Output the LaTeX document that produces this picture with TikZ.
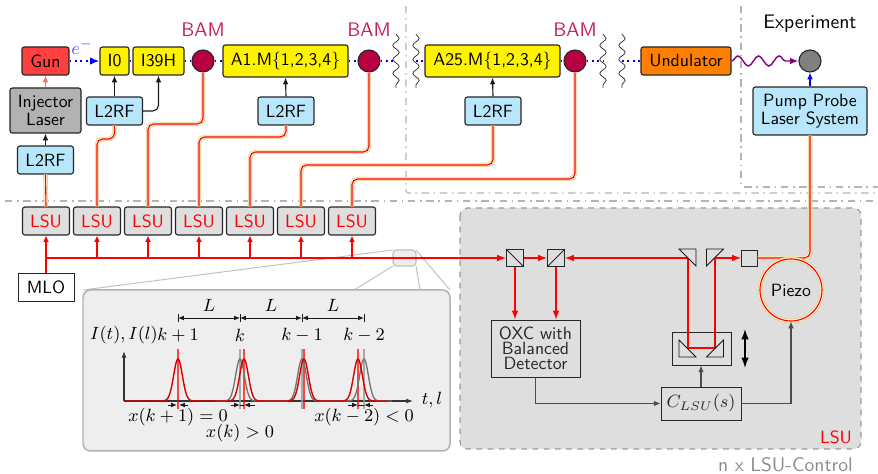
\documentclass[tikz,border=0pt]{standalone}
\usepackage{fix-cm}
\usepackage{amsmath}
\usetikzlibrary{arrows.meta,decorations.pathmorphing}

\newcommand{\pxu}{0.535pt}
\newcommand{\pulse}[1]{exp(-((\x-#1)/6.2)^2)}

\definecolor{gunred}{HTML}{FF4040}
\definecolor{rfblue}{HTML}{B8E6FA}
\definecolor{lsugray}{HTML}{DEDEDE}
\definecolor{insetgray}{HTML}{EEEEEE}
\definecolor{bamred}{HTML}{B80042}
\definecolor{bamtext}{HTML}{C8205A}
\definecolor{undorange}{HTML}{FF8000}
\definecolor{fibertan}{HTML}{E0D090}
\definecolor{fiberpale}{HTML}{FBF3D5}
\definecolor{linegray}{HTML}{B4B4B4}
\definecolor{wavepurple}{HTML}{800080}

\tikzset{
  largertext/.style={font=\sffamily\fontsize{10.5}{12.6}\selectfont},
  boxsize/.style 2 args={minimum width=#1*\pxu,minimum height=#2*\pxu,inner sep=0pt},
  blockbox/.style={draw=black!85,line width=.6pt,rounded corners=1.3pt,align=center},
  rfbox/.style={blockbox,fill=rfblue,boxsize={56}{28}},
  cavbox/.style={blockbox,fill=yellow},
  lsubox/.style={blockbox,fill=lsugray,text=red,boxsize={47}{28}},
  bamnode/.style={circle,draw=black!85,line width=.6pt,fill=bamred,minimum size=22*\pxu,inner sep=0pt},
  bamlabel/.style={largertext,text=bamtext},
  ctrlbox/.style={draw=black!85,line width=.5pt,align=center,text=black!85},
  splitbox/.style={draw=black!85,line width=.5pt,minimum size=17*\pxu,inner sep=0pt},
  prism/.style={draw=black!90,line width=.5pt},
  fiber/.style={draw=red,line width=.6pt,rounded corners=3pt,
    preaction={draw=fibertan,line width=2.4pt},
    preaction={draw=fiberpale,line width=1.6pt}},
  rfarrow/.style={draw=black!90,line width=.6pt,-{Latex[length=3.6pt,width=3pt]}},
  ctrlarrow/.style={draw=black!70,line width=.55pt,-{Latex[length=3.6pt,width=3pt]}},
  lightarrow/.style={draw=red,line width=.6pt,-{Latex[length=3.4pt,width=3.2pt]}},
  beamarrow/.style={draw=red,line width=.6pt,-{Latex[length=4.8pt,width=3.6pt]}},
  beam/.style={draw=blue,line width=.9pt,dotted},
  breakline/.style={draw=black!80,line width=.4pt,decorate,
    decoration={snake,amplitude=1.7pt,segment length=7.5pt}},
  arealine/.style={draw=linegray,line width=.55pt,dash pattern=on 4pt off 2.5pt on .8pt off 2.5pt},
  zoomline/.style={draw=black!25,line width=.5pt},
  dimarrow/.style={draw=black!90,line width=.5pt,{Latex[length=3.2pt,width=2.6pt]}-{Latex[length=3.2pt,width=2.6pt]}},
  offsetarrow/.style={draw=black!90,line width=.5pt,-{Latex[length=3.2pt,width=2.6pt]}},
}

\begin{document}
\begin{tikzpicture}[x=\pxu,y=-\pxu,font=\sffamily\fontsize{9.5}{11.4}\selectfont]
    \useasboundingbox (0,0) rectangle (878,474);

    % separators
    \draw[arealine] (5,201) -- (878,201);
    \draw[arealine,rounded corners=1pt] (406,6) -- (406,193) -- (878,193);
    \draw[arealine,rounded corners=1pt] (741,6) -- (741,187) -- (878,187);

    % accelerator
    \node[blockbox,fill=gunred,boxsize={47}{28}] (gun) at (45.5,61) {Gun};
    \node[blockbox,fill=black!30,boxsize={71}{45}] (injector) at (45.5,110.5) {Injector\\[-2.1pt]Laser};
    \node[rfbox] (rfinj) at (45.5,160) {L2RF};
    \node[cavbox,boxsize={29}{28}] (izero) at (114.5,61) {I0};
    \node[cavbox,boxsize={51}{28}] (ithree) at (158.5,61) {I39H};
    \node[cavbox,boxsize={125}{32}] (afirst) at (285.5,61) {A1.M\{1,2,3,4\}};
    \node[cavbox,boxsize={135}{32}] (alast) at (492.5,61) {A25.M\{1,2,3,4\}};
    \node[blockbox,fill=undorange,boxsize={90}{28}] (undulator) at (686,61) {Undulator};
    \node[bamnode] (bamA) at (203,61) {};
    \node[bamnode] (bamB) at (369,61) {};
    \node[bamnode] (bamC) at (575,61) {};
    \node[circle,draw=black!85,line width=.6pt,fill=black!50,minimum size=22*\pxu,inner sep=0pt] (target) at (810,61) {};
    \node[bamlabel] (labelA) at (203,30) {BAM};
    \node[bamlabel] (labelB) at (369,30) {BAM};
    \node[bamlabel] (labelC) at (575,30) {BAM};
    \node[largertext] (expt) at (810,24) {Experiment};
    \node[text=blue!70] (elec) at (82,47) {$e^-$};
    \node[rfbox] (rfa) at (114.5,111) {L2RF};
    \node[rfbox] (rfb) at (286,111) {L2RF};
    \node[rfbox] (rfc) at (493,111) {L2RF};
    \node[blockbox,fill=rfblue,boxsize={114}{48}] (pump) at (810,111) {Pump Probe\\[-2.1pt]Laser System};

    \coordinate (waveA) at (396,61);
    \coordinate (waveB) at (416,61);
    \coordinate (waveC) at (603,61);
    \coordinate (waveD) at (622,61);
    \foreach \w in {waveA,waveB,waveC,waveD}
        \draw[breakline] (\w) ++(0,-27) -- ++(0,54);

    \draw[beam,-{Latex[length=5pt,width=4pt]}] (gun.east) -- (izero.west);
    \draw[beam] (izero.east) -- (ithree.west);
    \draw[beam] (ithree.east) -- (bamA.west);
    \draw[beam] (bamA.east) -- (afirst.west);
    \draw[beam] (afirst.east) -- (bamB.west);
    \draw[beam] (bamB.east) -- (waveA);
    \draw[beam] (waveB) -- (alast.west);
    \draw[beam] (alast.east) -- (bamC.west);
    \draw[beam] (bamC.east) -- (waveC);
    \draw[beam] (waveD) -- (undulator.west);

    \draw[wavepurple,line width=.75pt,-{Latex[length=4.5pt,width=3.5pt]},decorate,
        decoration={snake,amplitude=2.7pt,segment length=11pt,post length=6pt}] (undulator.east) -- (target.west);
    \draw[blue,line width=.6pt,-{Latex[length=3.6pt,width=3pt]}] (pump.north -| target) -- (target.south);

    \draw[rfarrow] (rfinj.north) -- (injector.south);
    \draw[draw=red!60,line width=.6pt,-{Latex[length=3.6pt,width=3pt]}] (injector.north) -- (gun.south);
    \draw[rfarrow] (rfa.north) -- (izero.south);
    \draw[rfarrow,rounded corners=3pt] (rfa.east) -| (ithree.south);
    \draw[rfarrow] (rfb.north) -- (afirst.south);
    \draw[rfarrow] (rfc.north) -- (alast.south);

    % LSU control box and zoomed pulses
    \draw[draw=black!40,dashed,line width=.6pt,fill=lsugray,rounded corners=4pt] (460,208) rectangle (861,449);
    \node[text=red] (lsutag) at (836,437) {LSU};
    \node[largertext,text=black!45] (ncontrol) at (785.5,465) {n x LSU-Control};

    \draw[zoomline] (393,250) -- (83,290);
    \draw[zoomline] (416,250) -- (450,290);
    \draw[zoomline] (393,266) -- (354,290);
    \draw[zoomline] (416,266) -- (420,290);
    \draw[draw=black!25,line width=.6pt,fill=insetgray,rounded corners=2pt] (393,250) rectangle (416,266);
    \draw[draw=black!30,line width=.8pt,fill=insetgray,rounded corners=4pt] (83,290) rectangle (450,451);

    % pulses
    \draw[black!60,line width=.9pt] (124,401) -- (392,401);
    \draw[draw=black!80,line width=.55pt,-{Latex[length=3.6pt,width=2.6pt]}] (124,401) -- (124,351);
    \draw[draw=black!80,line width=.55pt,-{Latex[length=3.6pt,width=2.6pt]}] (124,401) -- (413,401);
    \foreach \xg in {240,302,364}
        \draw[black!40,line width=.8pt,opacity=.8] (\xg,349) -- (\xg,409);
    \foreach \xr in {178,244,304,358}
        \draw[red,line width=.7pt,opacity=.7] (\xr,349) -- (\xr,409);
    \draw[black!55,line width=.7pt] plot[domain=215:392,samples=180,smooth] (\x,{401-42*(\pulse{240}+\pulse{302}+\pulse{364})});
    \draw[red!85!black,line width=.75pt] plot[domain=124:388,samples=264,smooth] (\x,{401-42*(\pulse{178}+\pulse{244}+\pulse{304}+\pulse{358})});

    \node (axisy) at (124,335) {$I(t),I(l)$};
    \node (axisx) at (432,400) {$t,l$};
    \foreach \i/\xk/\txt in {A/178/k+1,B/240/k,C/302/k-1,D/364/k-2} {
        \coordinate (dim\i) at (\xk,318);
        \draw[draw=black!90,line width=.5pt] (\xk,314) -- (\xk,322);
        \node (idx\i) at (\xk,335) {$\txt$};
    }
    \foreach \a/\b/\xl in {A/B/209,B/C/271,C/D/333} {
        \draw[dimarrow] (dim\a) -- (dim\b);
        \node (len\a) at (\xl,305) {$L$};
    }
    \foreach \xs/\xe in {168/177,188/179,231/240,255/244,348/358,373/364}
        \draw[offsetarrow] (\xs,405) -- (\xe,405);
    \draw[draw=black!90,line width=.5pt] (240,405) -- (244,405);
    \draw[draw=black!90,line width=.5pt] (358,405) -- (364,405);
    \node (offA) at (178,417) {$x(k+1)=0$};
    \node (offB) at (240,433) {$x(k)>0$};
    \node (offC) at (364,417) {$x(k-2)<0$};

    % synchronisation units
    \node[blockbox,sharp corners,line width=.5pt,boxsize={56}{28}] (mlo) at (46,287) {MLO};
    \foreach \i/\xl in {1/46,2/97,3/148,4/199,5/250,6/301,7/352}
        \node[lsubox] (lsu\i) at (\xl,221) {LSU};
    \coordinate (trunk) at (46,258);
    \foreach \i in {1,...,7}
        \draw[lightarrow] (lsu\i.south |- trunk) -- (lsu\i.south);

    \draw[fiber] (lsu1.north) -- (rfinj.south);
    \foreach \i/\target/\ylevel in {2/rfa/139,3/bamA/124,4/rfb/137,5/bamB/152,6/rfc/165,7/bamC/179}
        \draw[fiber] (lsu\i.north) -- (lsu\i.north |- 0,\ylevel) -| (\target.south);

    \node[splitbox] (splitA) at (515,258) {};
    \node[splitbox] (splitB) at (556,258) {};
    \draw[black!85,line width=.5pt] (splitA.north west) -- (splitA.south east);
    \draw[black!85,line width=.5pt] (splitB.south west) -- (splitB.north east);
    \node[draw=black!85,line width=.5pt,minimum size=16*\pxu,inner sep=0pt] (coupler) at (749.5,258) {};
    \node[ctrlbox,boxsize={89}{57}] (oxc) at (535.5,348.5) {OXC with\\[-3.4pt]Balanced\\[-3.4pt]Detector};
    \node[ctrlbox,minimum width=59*\pxu,minimum height=33*\pxu,inner sep=0pt] (stage) at (701.5,348.5) {};
    \node[ctrlbox,boxsize={80}{33}] (ctrl) at (701,403.5) {$C_{LSU}(s)$};

    \coordinate (delayA) at (688,258);
    \coordinate (delayB) at (715,258);
    \coordinate (delayC) at (688,348);
    \coordinate (delayD) at (715,348);

    \draw[draw=red,line width=.6pt] (mlo.north) -- (trunk);
    \draw[beamarrow] (trunk) -- (splitA.west);
    \draw[beamarrow] (splitA.east) -- (splitB.west);
    \draw[beamarrow] (delayA) -- (splitB.east);
    \draw[beamarrow] (splitA.south) -- (oxc.north -| splitA);
    \draw[beamarrow] (splitB.south) -- (oxc.north -| splitB);
    \draw[draw=red,line width=.7pt] (delayA) -- (delayC) -- (delayD) -- (delayB);
    \draw[beamarrow] (delayB) -- (coupler.west);

    \draw[prism] (679,249) -- (696,249) -- (696,266) -- cycle;
    \draw[prism] (706.5,249) -- (723.5,249) -- (706.5,266) -- cycle;
    \draw[prism] (679,340) -- (679,357) -- (696,357) -- cycle;
    \draw[prism] (723.5,340) -- (723.5,357) -- (706.5,357) -- cycle;

    \draw[fiber] (coupler.east) -- (coupler.east -| pump.south) -- (pump.south);
    \node[circle,fiber,minimum size=62*\pxu,inner sep=0pt,text=black] (piezo) at (791,290) {Piezo};

    \draw[ctrlarrow] (oxc.south) |- (ctrl.west);
    \draw[ctrlarrow] (ctrl.north) -- (ctrl.north |- stage.south);
    \draw[ctrlarrow] (ctrl.east) -| (piezo.south);

    \coordinate (moveA) at (745,329);
    \coordinate (moveB) at (745,368);
    \draw[black,line width=.8pt,{Latex[length=5.5pt,width=4pt]}-{Latex[length=5.5pt,width=4pt]}] (moveA) -- (moveB);
\end{tikzpicture}
\end{document}
